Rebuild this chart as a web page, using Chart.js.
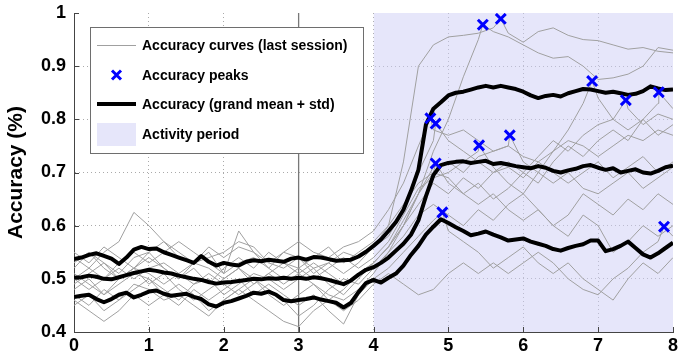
<!DOCTYPE html>
<html>
<head>
<meta charset="utf-8">
<title>Accuracy curves</title>
<script src="https://cdn.jsdelivr.net/npm/chart.js@4"></script>
<style>
  html, body { margin: 0; padding: 0; background: #fff; }
  canvas { display: block; }
</style>
</head>
<body>
<canvas id="accChart" width="683" height="358"></canvas>
<script>
// axis ticks
const xTicks = [0, 1, 2, 3, 4, 5, 6, 7, 8];
const yTicks = [0.4, 0.5, 0.6, 0.7, 0.8, 0.9, 1];

// session marker and activity period (time units)
const sessionMark = 3;
const activityStart = 4;
const activityEnd = 8;

// sample times of the single curves (every 0.2) and of the grand mean (every 0.1)
const curveX = [0, 0.2, 0.4, 0.6, 0.8, 1, 1.2, 1.4, 1.6, 1.8, 2, 2.2, 2.4, 2.6, 2.8, 3, 3.2, 3.4, 3.6, 3.8,
                4, 4.2, 4.4, 4.6, 4.8, 5, 5.2, 5.4, 5.6, 5.8, 6, 6.2, 6.4, 6.6, 6.8, 7, 7.2, 7.4, 7.6, 7.8, 8];
const meanX = Array.from({ length: 81 }, (_, i) => i / 10);

// accuracy curves, last session
const curve01 = [0.55, 0.53, 0.56, 0.54, 0.52, 0.55, 0.57, 0.54, 0.53, 0.56, 0.54, 0.56, 0.55, 0.53, 0.55, 0.57, 0.55, 0.54, 0.56, 0.57,
                 0.59, 0.63, 0.68, 0.75, 0.78, 0.77, 0.78, 0.76, 0.74, 0.75, 0.73, 0.72, 0.74, 0.76, 0.75, 0.73, 0.75, 0.77, 0.76, 0.78, 0.77];
const curve02 = [0.50, 0.52, 0.55, 0.57, 0.625, 0.60, 0.57, 0.55, 0.53, 0.54, 0.55, 0.57, 0.56, 0.53, 0.52, 0.54, 0.52, 0.53, 0.51, 0.53,
                 0.56, 0.58, 0.63, 0.70, 0.76, 0.76, 0.74, 0.72, 0.70, 0.71, 0.69, 0.72, 0.70, 0.68, 0.70, 0.72, 0.69, 0.71, 0.73, 0.70, 0.72];
const curve03 = [0.47, 0.45, 0.48, 0.46, 0.49, 0.48, 0.46, 0.47, 0.45, 0.43, 0.46, 0.48, 0.50, 0.47, 0.45, 0.47, 0.49, 0.47, 0.46, 0.48,
                 0.51, 0.55, 0.60, 0.66, 0.70, 0.68, 0.66, 0.64, 0.66, 0.63, 0.61, 0.63, 0.60, 0.58, 0.62, 0.60, 0.55, 0.57, 0.60, 0.58, 0.60];
const curve04 = [0.45, 0.47, 0.44, 0.46, 0.48, 0.50, 0.47, 0.45, 0.48, 0.46, 0.48, 0.50, 0.47, 0.49, 0.47, 0.45, 0.47, 0.44, 0.415, 0.47,
                 0.50, 0.52, 0.55, 0.58, 0.61, 0.59, 0.57, 0.55, 0.52, 0.54, 0.56, 0.53, 0.51, 0.53, 0.50, 0.48, 0.46, 0.50, 0.53, 0.51, 0.54];
const curve05 = [0.53, 0.55, 0.52, 0.50, 0.52, 0.51, 0.49, 0.51, 0.53, 0.52, 0.50, 0.52, 0.49, 0.51, 0.53, 0.52, 0.50, 0.52, 0.54, 0.52,
                 0.54, 0.57, 0.62, 0.67, 0.69, 0.70, 0.72, 0.74, 0.71, 0.68, 0.66, 0.63, 0.60, 0.62, 0.66, 0.64, 0.62, 0.65, 0.63, 0.66, 0.64];
const curve06 = [0.48, 0.50, 0.47, 0.49, 0.51, 0.50, 0.48, 0.46, 0.49, 0.50, 0.47, 0.49, 0.51, 0.50, 0.48, 0.50, 0.52, 0.49, 0.47, 0.50,
                 0.53, 0.56, 0.60, 0.66, 0.74, 0.80, 0.88, 0.95, 0.965, 0.955, 0.94, 0.925, 0.915, 0.918, 0.90, 0.875, 0.878, 0.885, 0.90, 0.935, 0.93];
const curve07 = [0.52, 0.55, 0.53, 0.51, 0.54, 0.55, 0.52, 0.50, 0.53, 0.55, 0.51, 0.53, 0.54, 0.52, 0.55, 0.54, 0.51, 0.53, 0.55, 0.54,
                 0.56, 0.60, 0.72, 0.90, 0.94, 0.955, 0.958, 0.962, 0.972, 0.962, 0.945, 0.965, 0.972, 0.958, 0.95, 0.948, 0.94, 0.932, 0.935, 0.928, 0.925];
const curve08 = [0.49, 0.51, 0.53, 0.50, 0.52, 0.54, 0.52, 0.50, 0.52, 0.49, 0.52, 0.54, 0.52, 0.55, 0.53, 0.51, 0.53, 0.51, 0.49, 0.51,
                 0.53, 0.56, 0.61, 0.66, 0.71, 0.72, 0.70, 0.73, 0.74, 0.75, 0.72, 0.70, 0.68, 0.70, 0.67, 0.66, 0.68, 0.70, 0.67, 0.69, 0.71];
const curve09 = [0.51, 0.49, 0.47, 0.50, 0.52, 0.49, 0.51, 0.48, 0.46, 0.48, 0.50, 0.52, 0.50, 0.48, 0.46, 0.43, 0.45, 0.48, 0.50, 0.49,
                 0.52, 0.55, 0.58, 0.62, 0.64, 0.62, 0.60, 0.63, 0.61, 0.64, 0.66, 0.70, 0.74, 0.78, 0.83, 0.84, 0.80, 0.78, 0.80, 0.77, 0.79];
const curve10 = [0.50, 0.48, 0.50, 0.52, 0.50, 0.52, 0.53, 0.51, 0.49, 0.51, 0.49, 0.47, 0.49, 0.51, 0.49, 0.51, 0.49, 0.46, 0.48, 0.51,
                 0.53, 0.56, 0.60, 0.64, 0.68, 0.66, 0.69, 0.67, 0.70, 0.72, 0.70, 0.73, 0.76, 0.74, 0.77, 0.79, 0.80, 0.82, 0.79, 0.81, 0.80];
const curve11 = [0.54, 0.52, 0.50, 0.53, 0.55, 0.53, 0.55, 0.57, 0.55, 0.53, 0.51, 0.59, 0.55, 0.52, 0.50, 0.52, 0.54, 0.56, 0.53, 0.55,
                 0.57, 0.60, 0.64, 0.68, 0.70, 0.69, 0.66, 0.68, 0.65, 0.67, 0.70, 0.68, 0.72, 0.75, 0.73, 0.76, 0.78, 0.76, 0.80, 0.83, 0.82];
const curve12 = [0.46, 0.44, 0.42, 0.44, 0.47, 0.45, 0.47, 0.49, 0.47, 0.44, 0.46, 0.48, 0.46, 0.44, 0.42, 0.41, 0.44, 0.46, 0.44, 0.46,
                 0.49, 0.51, 0.49, 0.47, 0.48, 0.51, 0.53, 0.51, 0.53, 0.51, 0.53, 0.55, 0.53, 0.50, 0.48, 0.47, 0.50, 0.52, 0.55, 0.57, 0.58];
const grayCurves = [curve01, curve02, curve03, curve04, curve05, curve06, curve07, curve08, curve09, curve10, curve11, curve12];

// peak of each curve inside the activity period (same order as grayCurves)
const peakX = [4.76, 4.83, 4.83, 4.92, 5.41, 5.46, 5.70, 5.82, 6.92, 7.37, 7.81, 7.88];
const peakY = [0.802, 0.792, 0.717, 0.625, 0.751, 0.978, 0.989, 0.770, 0.872, 0.836, 0.851, 0.598];

// grand mean and mean +/- std
const meanUpper = [
  0.537, 0.540, 0.545, 0.548, 0.543, 0.538, 0.528, 0.540, 0.555, 0.560,
  0.556, 0.557, 0.550, 0.545, 0.540, 0.535, 0.530, 0.543, 0.532, 0.525,
  0.530, 0.527, 0.525, 0.532, 0.535, 0.533, 0.536, 0.534, 0.532, 0.538,
  0.540, 0.536, 0.541, 0.540, 0.537, 0.534, 0.535, 0.536, 0.542, 0.551,
  0.562, 0.574, 0.590, 0.607, 0.630, 0.665, 0.705, 0.790, 0.820, 0.832,
  0.845, 0.850, 0.852, 0.856, 0.860, 0.863, 0.860, 0.863, 0.860, 0.857,
  0.852, 0.845, 0.840, 0.844, 0.846, 0.843, 0.849, 0.853, 0.857, 0.856,
  0.853, 0.850, 0.852, 0.849, 0.846, 0.848, 0.853, 0.862, 0.858, 0.855,
  0.856];
const meanLine = [
  0.502, 0.503, 0.506, 0.504, 0.500, 0.499, 0.503, 0.507, 0.511, 0.514,
  0.517, 0.515, 0.512, 0.510, 0.506, 0.503, 0.500, 0.498, 0.494, 0.491,
  0.493, 0.494, 0.496, 0.498, 0.500, 0.499, 0.501, 0.500, 0.502, 0.500,
  0.502, 0.500, 0.503, 0.501, 0.498, 0.494, 0.490, 0.497, 0.508, 0.517,
  0.522, 0.530, 0.540, 0.553, 0.566, 0.583, 0.610, 0.655, 0.695, 0.714,
  0.718, 0.720, 0.721, 0.718, 0.720, 0.722, 0.716, 0.718, 0.715, 0.712,
  0.710, 0.708, 0.712, 0.709, 0.703, 0.700, 0.704, 0.707, 0.712, 0.714,
  0.709, 0.705, 0.708, 0.700, 0.703, 0.706, 0.700, 0.698, 0.703, 0.710,
  0.713];
const meanLower = [
  0.466, 0.468, 0.470, 0.462, 0.456, 0.462, 0.470, 0.474, 0.465, 0.470,
  0.476, 0.478, 0.472, 0.468, 0.470, 0.472, 0.466, 0.462, 0.452, 0.448,
  0.455, 0.458, 0.463, 0.468, 0.474, 0.472, 0.476, 0.470, 0.460, 0.458,
  0.460, 0.462, 0.465, 0.461, 0.458, 0.455, 0.446, 0.455, 0.475, 0.492,
  0.498, 0.493, 0.502, 0.510, 0.525, 0.545, 0.562, 0.583, 0.598, 0.612,
  0.605, 0.597, 0.590, 0.582, 0.585, 0.589, 0.583, 0.578, 0.572, 0.574,
  0.576, 0.570, 0.566, 0.562, 0.556, 0.553, 0.558, 0.562, 0.565, 0.572,
  0.572, 0.552, 0.556, 0.562, 0.570, 0.558, 0.546, 0.540, 0.548, 0.558,
  0.568];

const legendLabels = ['Accuracy curves (last session)', 'Accuracy peaks', 'Accuracy (grand mean + std)', 'Activity period'];

const FONT = "'Liberation Sans', Arial, Helvetica, sans-serif";
const GRAY = 'rgb(160,160,160)';
const SHADE = 'rgba(205,205,245,0.5)';
const SHADE_SOLID = 'rgb(230,230,250)';
const PEAK_BLUE = 'rgb(0,0,255)';

function toPoints(xs, ys) {
  return ys.map((y, i) => ({ x: xs[i], y: y }));
}

const datasets = [];

// activity period band
datasets.push({
  label: legendLabels[3],
  data: [{ x: activityStart, y: 1 }, { x: activityEnd, y: 1 }],
  fill: 'start',
  backgroundColor: SHADE,
  borderWidth: 0,
  pointRadius: 0,
  order: 100
});

// session boundary
datasets.push({
  label: 'session',
  data: [{ x: sessionMark, y: 0.4 }, { x: sessionMark, y: 1 }],
  borderColor: 'rgb(120,120,120)',
  borderWidth: 1.3,
  pointRadius: 0,
  order: 90
});

grayCurves.forEach((vals, i) => {
  const pts = toPoints(curveX, vals);
  pts.push({ x: peakX[i], y: peakY[i] });
  pts.sort((a, b) => a.x - b.x);
  datasets.push({
    label: i === 0 ? legendLabels[0] : 'curve ' + (i + 1),
    data: pts,
    borderColor: GRAY,
    borderWidth: 1,
    pointRadius: 0,
    order: 50
  });
});

[meanUpper, meanLine, meanLower].forEach((vals, i) => {
  datasets.push({
    label: i === 1 ? legendLabels[2] : 'std ' + i,
    data: toPoints(meanX, vals),
    borderColor: '#000',
    borderWidth: 4,
    pointRadius: 0,
    borderJoinStyle: 'round',
    order: 10
  });
});

datasets.push({
  label: legendLabels[1],
  data: toPoints(peakX, peakY),
  showLine: false,
  pointStyle: 'crossRot',
  pointRadius: 7,
  pointBorderWidth: 3,
  pointBorderColor: PEAK_BLUE,
  borderColor: PEAK_BLUE,
  order: 1
});

// small inward tick marks on both axes
const innerTicks = {
  id: 'innerTicks',
  afterDatasetsDraw(chart) {
    const { ctx, chartArea: a, scales } = chart;
    ctx.save();
    ctx.strokeStyle = '#444';
    ctx.lineWidth = 1;
    ctx.beginPath();
    xTicks.forEach(v => {
      const px = Math.round(scales.x.getPixelForValue(v)) + 0.5;
      ctx.moveTo(px, a.bottom);
      ctx.lineTo(px, a.bottom - 5);
    });
    yTicks.forEach(v => {
      const py = Math.round(scales.y.getPixelForValue(v)) + 0.5;
      ctx.moveTo(a.left, py);
      ctx.lineTo(a.left + 5, py);
    });
    ctx.stroke();
    ctx.restore();
  }
};

// boxed legend in the upper left corner of the plot
const boxLegend = {
  id: 'boxLegend',
  afterDraw(chart) {
    const { ctx, chartArea: a } = chart;
    const x0 = a.left + 16, y0 = a.top + 14, w = 273, h = 126;
    const rows = [18, 48, 77, 107];
    const sx0 = x0 + 7, sx1 = x0 + 46, tx = x0 + 52;
    ctx.save();
    ctx.fillStyle = '#fff';
    ctx.fillRect(x0, y0, w, h);
    ctx.strokeStyle = '#6e6e6e';
    ctx.lineWidth = 1;
    ctx.strokeRect(x0 + 0.5, y0 + 0.5, w, h);

    // thin gray curve sample
    ctx.strokeStyle = GRAY;
    ctx.lineWidth = 1;
    ctx.beginPath();
    ctx.moveTo(sx0, y0 + rows[0] + 0.5);
    ctx.lineTo(sx1, y0 + rows[0] + 0.5);
    ctx.stroke();

    // peak marker
    const cx = (sx0 + sx1) / 2, cy = y0 + rows[1], r = 4.5;
    ctx.strokeStyle = PEAK_BLUE;
    ctx.lineWidth = 3;
    ctx.beginPath();
    ctx.moveTo(cx - r, cy - r); ctx.lineTo(cx + r, cy + r);
    ctx.moveTo(cx + r, cy - r); ctx.lineTo(cx - r, cy + r);
    ctx.stroke();

    // grand mean sample
    ctx.strokeStyle = '#000';
    ctx.lineWidth = 4;
    ctx.beginPath();
    ctx.moveTo(sx0, y0 + rows[2]);
    ctx.lineTo(sx1, y0 + rows[2]);
    ctx.stroke();

    // activity period patch
    ctx.fillStyle = SHADE_SOLID;
    ctx.fillRect(sx0, y0 + rows[3] - 11, sx1 - sx0, 23);

    ctx.fillStyle = '#000';
    ctx.font = 'bold 14px ' + FONT;
    ctx.textBaseline = 'middle';
    ctx.textAlign = 'left';
    legendLabels.forEach((t, i) => ctx.fillText(t, tx, y0 + rows[i] + 1));
    ctx.restore();
  }
};

const tickFont = { family: FONT, size: 18, weight: 'bold' };

const ctx = document.getElementById('accChart').getContext('2d');
const accChart = new Chart(ctx, {
  type: 'line',
  data: { datasets: datasets },
  options: {
    responsive: false,
    devicePixelRatio: 1,
    animation: false,
    parsing: false,
    normalized: true,
    layout: { padding: { top: 13, right: 6, left: 0, bottom: 0 } },
    elements: { line: { tension: 0 } },
    plugins: {
      legend: { display: false },
      tooltip: { enabled: false }
    },
    scales: {
      x: {
        type: 'linear',
        min: 0,
        max: 8,
        afterBuildTicks: s => { s.ticks = xTicks.map(v => ({ value: v })); },
        afterFit: s => { s.height = 26; s.paddingLeft = 0; s.paddingRight = 0; },
        ticks: {
          font: tickFont,
          color: '#000',
          padding: 3,
          maxRotation: 0,
          callback: v => String(v)
        },
        grid: {
          drawTicks: false,
          color: c => (c.tick && (c.tick.value === 0 || c.tick.value === 8)) ? 'rgba(0,0,0,0)' : 'rgb(170,170,170)',
          lineWidth: 1
        },
        border: { display: true, color: '#444', width: 1, dash: [1, 3] }
      },
      y: {
        type: 'linear',
        min: 0.4,
        max: 1,
        afterBuildTicks: s => { s.ticks = yTicks.map(v => ({ value: v })); },
        afterFit: s => { s.width = 74; s.paddingTop = 0; s.paddingBottom = 0; },
        ticks: {
          font: tickFont,
          color: '#000',
          padding: 8,
          callback: v => (v === 1 ? '1' : v.toFixed(1))
        },
        title: {
          display: true,
          text: 'Accuracy (%)',
          color: '#000',
          font: { family: FONT, size: 21, weight: 'bold', lineHeight: 1.2 },
          padding: { top: 4, bottom: 0 }
        },
        grid: {
          drawTicks: false,
          color: c => (c.tick && (c.tick.value <= 0.4001 || c.tick.value >= 0.9999)) ? 'rgba(0,0,0,0)' : 'rgb(170,170,170)',
          lineWidth: 1
        },
        border: { display: true, color: '#444', width: 1, dash: [1, 3] }
      }
    }
  },
  plugins: [innerTicks, boxLegend]
});
</script>
</body>
</html>
